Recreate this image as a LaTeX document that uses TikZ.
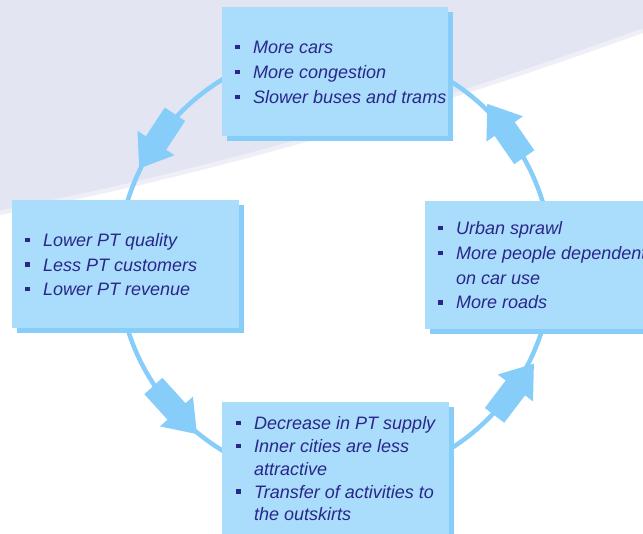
\documentclass[tikz,border=0pt]{standalone}
\usepackage{fontspec}
\setmainfont{Liberation Sans}
\usetikzlibrary{shapes.arrows,shadows,calc}
\definecolor{haze}{RGB}{227,229,242}
\definecolor{boxfill}{RGB}{169,221,251}
\definecolor{boxshade}{RGB}{134,206,249}
\definecolor{ink}{RGB}{42,38,138}
% square bullet followed by the hanging indent of a list item
\newcommand\sqbullet{\makebox[18pt][l]{\raisebox{4.25pt}{\rule{4.5pt}{4.5pt}}}}
\newcommand\contline{\hspace*{18pt}}
\begin{document}
\begin{tikzpicture}[x=1pt,y=1pt,
  panel/.style={rectangle, fill=boxfill, inner sep=0pt, anchor=south west,
    drop shadow={shadow xshift=5pt, shadow yshift=-5pt, fill=boxshade, opacity=1}},
  itemtext/.style={anchor=north west, inner sep=0pt, align=left, text=ink},
  ring/.style={draw=boxshade, line width=4.5pt},
  cycarrow/.style={single arrow, fill=boxshade, draw=none, inner xsep=0pt,
    inner ysep=12pt, minimum height=65pt, single arrow head extend=10pt,
    single arrow tip angle=72},
]
\useasboundingbox (0,0) rectangle (643,534);
\clip (0,0) rectangle (643,534);

% backdrop: lavender sweep in the upper left
\fill[haze] (0,319) .. controls (214,360) and (429,424) .. (643,501)
  -- (643,534) -- (0,534) -- cycle;
\draw[white, opacity=0.4, line width=5pt]
  (0,321) .. controls (214,362) and (429,426) .. (643,503);

% the cycle
\coordinate (cyc) at (335,269);
\draw[ring] ([shift={(90:217pt)}]cyc) arc[start angle=90, end angle=180, radius=217pt];
\draw[ring] ([shift={(180:217pt)}]cyc) arc[start angle=180, end angle=270, radius=217pt];
\draw[ring] ([shift={(270:217pt)}]cyc) arc[start angle=270, end angle=360, radius=217pt];
\draw[ring] ([shift={(0:217pt)}]cyc) arc[start angle=0, end angle=90, radius=217pt];

\node[cycarrow, rotate=236.6] (arrTL) at ([shift={(143:217pt)}]cyc) {};
\node[cycarrow, rotate=312.2] (arrBL) at ([shift={(220:216pt)}]cyc) {};
\node[cycarrow, rotate=52.7]  (arrBR) at ([shift={(323:218pt)}]cyc) {};
\node[cycarrow, rotate=124.7] (arrTR) at ([shift={(36:217pt)}]cyc) {};

% panels
\node[panel, minimum width=226pt, minimum height=129pt] (cars) at (222,398) {};
\node[panel, minimum width=227pt, minimum height=128pt] (ptq) at (12,206) {};
\node[panel, minimum width=240pt, minimum height=128pt] (sprawl) at (425,205) {};
\node[panel, minimum width=227pt, minimum height=145pt] (supply) at (222,-13) {};

% panel texts
\node[itemtext, font=\fontsize{18}{25}\selectfont\itshape] (carstext) at (235,498)
  {\strut\sqbullet More cars\\
   \sqbullet More congestion\\
   \sqbullet Slower buses and trams};
\node[itemtext, font=\fontsize{18}{24.5}\selectfont\itshape] (ptqtext) at (25,304.6)
  {\strut\sqbullet Lower PT quality\\
   \sqbullet Less PT customers\\
   \sqbullet Lower PT revenue};
\node[itemtext, font=\fontsize{18}{24.7}\selectfont\itshape] (sprawltext) at (438,316.8)
  {\strut\sqbullet Urban sprawl\\
   \sqbullet More people dependent\\
   \contline on car use\\
   \sqbullet More roads};
\node[itemtext, font=\fontsize{18}{22.8}\selectfont\itshape] (supplytext) at (236,120.5)
  {\strut\sqbullet Decrease in PT supply\\
   \sqbullet Inner cities are less\\
   \contline attractive\\
   \sqbullet Transfer of activities to\\
   \contline the outskirts};
\end{tikzpicture}
\end{document}
